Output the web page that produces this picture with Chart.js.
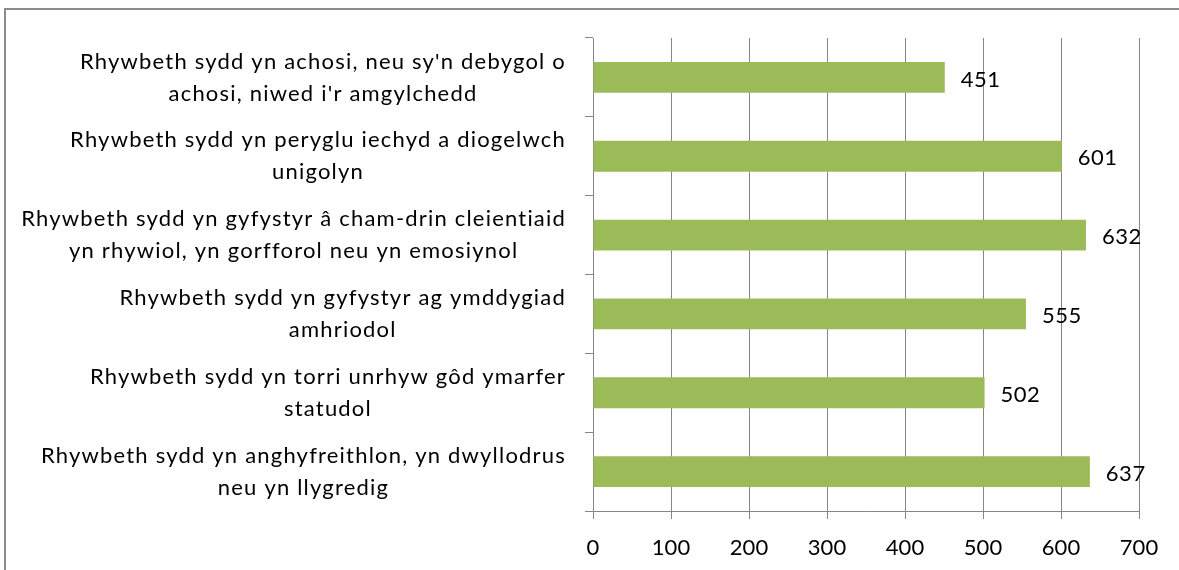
<!DOCTYPE html>
<html>
<head>
<meta charset="utf-8">
<script src="https://cdn.jsdelivr.net/npm/chart.js@4.4.1/dist/chart.umd.min.js"></script>
<style>
  html, body { margin: 0; padding: 0; background: #fff; }
  #wrap { width: 1179px; height: 570px; position: relative; }
</style>
</head>
<body>
<div id="wrap"><canvas id="chart"></canvas></div>
<script>
// Data ---

const categories = [
  ["Rhywbeth sydd yn achosi, neu sy'n debygol o", "achosi, niwed i'r amgylchedd"],
  ["Rhywbeth sydd yn peryglu iechyd a diogelwch", "unigolyn"],
  ["Rhywbeth sydd yn gyfystyr â cham-drin cleientiaid", "yn rhywiol, yn gorfforol neu yn emosiynol"],
  ["Rhywbeth sydd yn gyfystyr ag ymddygiad", "amhriodol"],
  ["Rhywbeth sydd yn torri unrhyw gôd ymarfer", "statudol"],
  ["Rhywbeth sydd yn anghyfreithlon, yn dwyllodrus", "neu yn llygredig"],
];

const values = [451, 601, 632, 555, 502, 637];

const xMin = 0;
const xMax = 700;
const xStep = 100;

// Styles ---

const FONT = "Lato";
const FONT_SIZE = 22;
const GREEN = "#9bbb59";
const GRID = "#868686";

// Plugins ---

const frame = {
  id: "frame",
  beforeDraw(chart) {
    const ctx = chart.ctx;
    ctx.save();
    ctx.strokeStyle = "#8c8c8c";
    ctx.lineWidth = 2;
    ctx.strokeRect(5, 9, 1400, 800);
    ctx.restore();
  },
};

// category text is right-aligned as a block, lines centred inside it
const categoryLabels = {
  id: "categoryLabels",
  afterDraw(chart) {
    const ctx = chart.ctx;
    const y = chart.scales.y;
    const right = 566;
    const lineGap = 32;

    ctx.save();
    ctx.font = `${FONT_SIZE}px ${FONT}`;
    ctx.letterSpacing = "1.2px";
    ctx.fillStyle = "#000";
    ctx.textAlign = "center";
    ctx.textBaseline = "middle";

    categories.forEach((lines, i) => {
      const py = y.getPixelForTick(i);
      const widest = Math.max(...lines.map((l) => ctx.measureText(l).width));
      const cx = right - widest / 2;

      lines.forEach((line, j) => {
        ctx.fillText(line, cx, py + (j - (lines.length - 1) / 2) * lineGap);
      });
    });
    ctx.restore();
  },
};

const valueLabels = {
  id: "valueLabels",
  afterDatasetsDraw(chart) {
    const ctx = chart.ctx;
    const meta = chart.getDatasetMeta(0);

    ctx.save();
    ctx.font = `${FONT_SIZE}px ${FONT}`;
    ctx.letterSpacing = "0.5px";
    ctx.fillStyle = "#000";
    ctx.textAlign = "left";
    ctx.textBaseline = "middle";

    meta.data.forEach((bar, i) => {
      ctx.fillText(String(values[i]), bar.x + 16, bar.y + 2);
    });
    ctx.restore();
  },
};

// Chart ---

Chart.defaults.font.family = FONT;
Chart.defaults.font.size = FONT_SIZE;
Chart.defaults.color = "#000";

new Chart(document.getElementById("chart"), {
  type: "bar",
  data: {
    labels: categories,
    datasets: [
      {
        data: values,
        backgroundColor: GREEN,
        borderWidth: 0,
        categoryPercentage: 0.8,
        barPercentage: 0.49,
      },
    ],
  },
  options: {
    indexAxis: "y",
    animation: false,
    responsive: true,
    maintainAspectRatio: false,
    layout: {
      padding: { top: 38, right: 40, left: 0, bottom: 0 },
    },
    plugins: {
      legend: { display: false },
      tooltip: { enabled: false },
    },
    scales: {
      x: {
        min: xMin,
        max: xMax,
        afterFit(scale) {
          scale.height = 59;
        },
        grid: {
          color: GRID,
          lineWidth: 1,
          tickLength: 8,
        },
        border: { color: GRID, width: 1 },
        ticks: {
          stepSize: xStep,
          padding: 16,
          maxRotation: 0,
        },
      },
      y: {
        afterFit(scale) {
          scale.width = 593;
        },
        grid: {
          offset: true,
          drawOnChartArea: false,
          color: GRID,
          tickLength: 8,
        },
        border: { color: GRID, width: 1 },
        ticks: { display: false },
      },
    },
  },
  plugins: [frame, categoryLabels, valueLabels],
});
</script>
</body>
</html>
